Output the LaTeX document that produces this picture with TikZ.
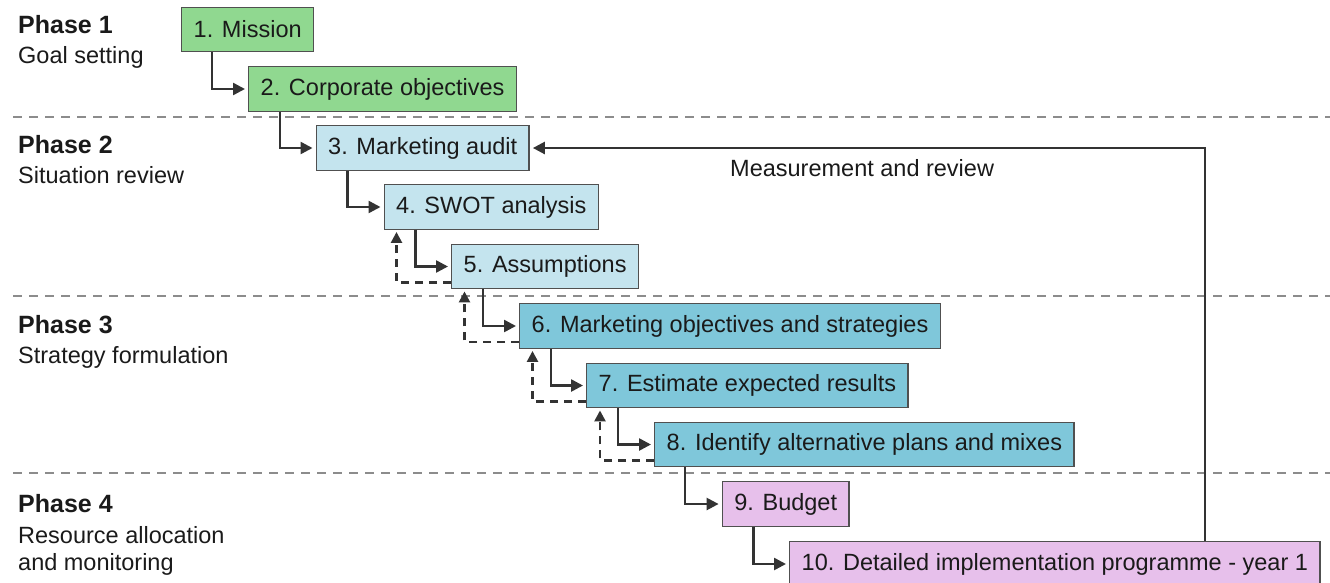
\documentclass[tikz,border=0pt]{standalone}
\usepackage{fontspec}
\setmainfont{Liberation Sans}
\usetikzlibrary{arrows.meta}
\definecolor{cgreen}{HTML}{90D890}
\definecolor{clblue}{HTML}{C4E4EE}
\definecolor{cmblue}{HTML}{7FC7DA}
\definecolor{cpink}{HTML}{E7C0EB}
\definecolor{cline}{HTML}{333333}
\definecolor{cborder}{HTML}{505050}
\definecolor{csep}{HTML}{8C8C8C}
\definecolor{ctext}{HTML}{1A1A1A}
\begin{document}
\begin{tikzpicture}[x=1pt,y=-1pt,
  stagebox/.style={draw=cborder, line width=1.4pt, minimum height=44.5pt,
    inner xsep=12pt, inner ysep=0pt, anchor=west, text=ctext,
    font=\fontsize{23.5}{27}\selectfont},
  phasehead/.style={anchor=base west, inner sep=0pt, text=ctext,
    font=\bfseries\fontsize{25}{30}\selectfont},
  phasesub/.style={anchor=base west, inner sep=0pt, text=ctext,
    font=\fontsize{23.5}{27}\selectfont},
  conn/.style={draw=cline, line width=2.5pt,
    -{Triangle[length=12pt,width=12pt]}, shorten >=3pt},
  dconn/.style={draw=cline, line width=2.5pt, dash pattern=on 8pt off 6pt,
    -{Triangle[length=11pt,width=11pt]}, shorten >=2pt},
  sepline/.style={draw=csep, line width=2pt, dash pattern=on 9pt off 7pt}
]
\useasboundingbox (0,0) rectangle (1330,582);

% phase separators
\draw[sepline] (13,117) -- (1330,117);
\draw[sepline] (13,296) -- (1330,296);
\draw[sepline] (13,473) -- (1330,473);

% phase labels
\node[phasehead] (p1) at (18,33) {Phase 1};
\node[phasesub] (p1s) at (18,63) {Goal setting};
\node[phasehead] (p2) at (18,153) {Phase 2};
\node[phasesub] (p2s) at (18,183) {Situation review};
\node[phasehead] (p3) at (18,333) {Phase 3};
\node[phasesub] (p3s) at (18,363) {Strategy formulation};
\node[phasehead] (p4) at (18,512) {Phase 4};
\node[phasesub] (p4s) at (18,543) {Resource allocation};
\node[phasesub] (p4t) at (18,570) {and monitoring};

% boxes
\node[stagebox, fill=cgreen] (b1) at (181,29.5) {1. Mission};
\node[stagebox, fill=cgreen] (b2) at (248,89) {2. Corporate objectives};
\node[stagebox, fill=clblue] (b3) at (315.5,148) {3. Marketing audit};
\node[stagebox, fill=clblue] (b4) at (383.5,207) {4. SWOT analysis};
\node[stagebox, fill=clblue] (b5) at (451,266.5) {5. Assumptions};
\node[stagebox, fill=cmblue] (b6) at (519,326) {6. Marketing objectives and strategies};
\node[stagebox, fill=cmblue] (b7) at (586,385.5) {7. Estimate expected results};
\node[stagebox, fill=cmblue] (b8) at (654,444.5) {8. Identify alternative plans and mixes};
\node[stagebox, fill=cpink] (b9) at (721.6,504) {9. Budget};
\node[stagebox, fill=cpink] (b10) at (789,564) {10. Detailed implementation programme - year 1};

% forward connectors
\draw[conn] ([xshift=31pt]b1.south west) |- (b2.west);
\draw[conn] ([xshift=32pt]b2.south west) |- (b3.west);
\draw[conn] ([xshift=32pt]b3.south west) |- (b4.west);
\draw[conn] ([xshift=32pt]b4.south west) |- (b5.west);
\draw[conn] ([xshift=32pt]b5.south west) |- (b6.west);
\draw[conn] ([xshift=32pt]b6.south west) |- (b7.west);
\draw[conn] ([xshift=32pt]b7.south west) |- (b8.west);
\draw[conn] ([xshift=31pt]b8.south west) |- (b9.west);
\draw[conn] ([xshift=32pt]b9.south west) |- (b10.west);

% dashed feedback connectors
\draw[dconn] ([yshift=7pt]b5.south west) -| ([xshift=13pt]b4.south west);
\draw[dconn] ([yshift=7pt]b6.south west) -| ([xshift=13.5pt]b5.south west);
\draw[dconn] ([yshift=7pt]b7.south west) -| ([xshift=13.5pt]b6.south west);
\draw[dconn] ([yshift=7pt]b8.south west) -| ([xshift=14pt]b7.south west);

% measurement and review loop
\coordinate (fb) at (1205,148);
\draw[conn] (b10.north -| fb) |- (b3.east);
\node[phasesub] (mr) at (730,176) {Measurement and review};
\end{tikzpicture}
\end{document}
